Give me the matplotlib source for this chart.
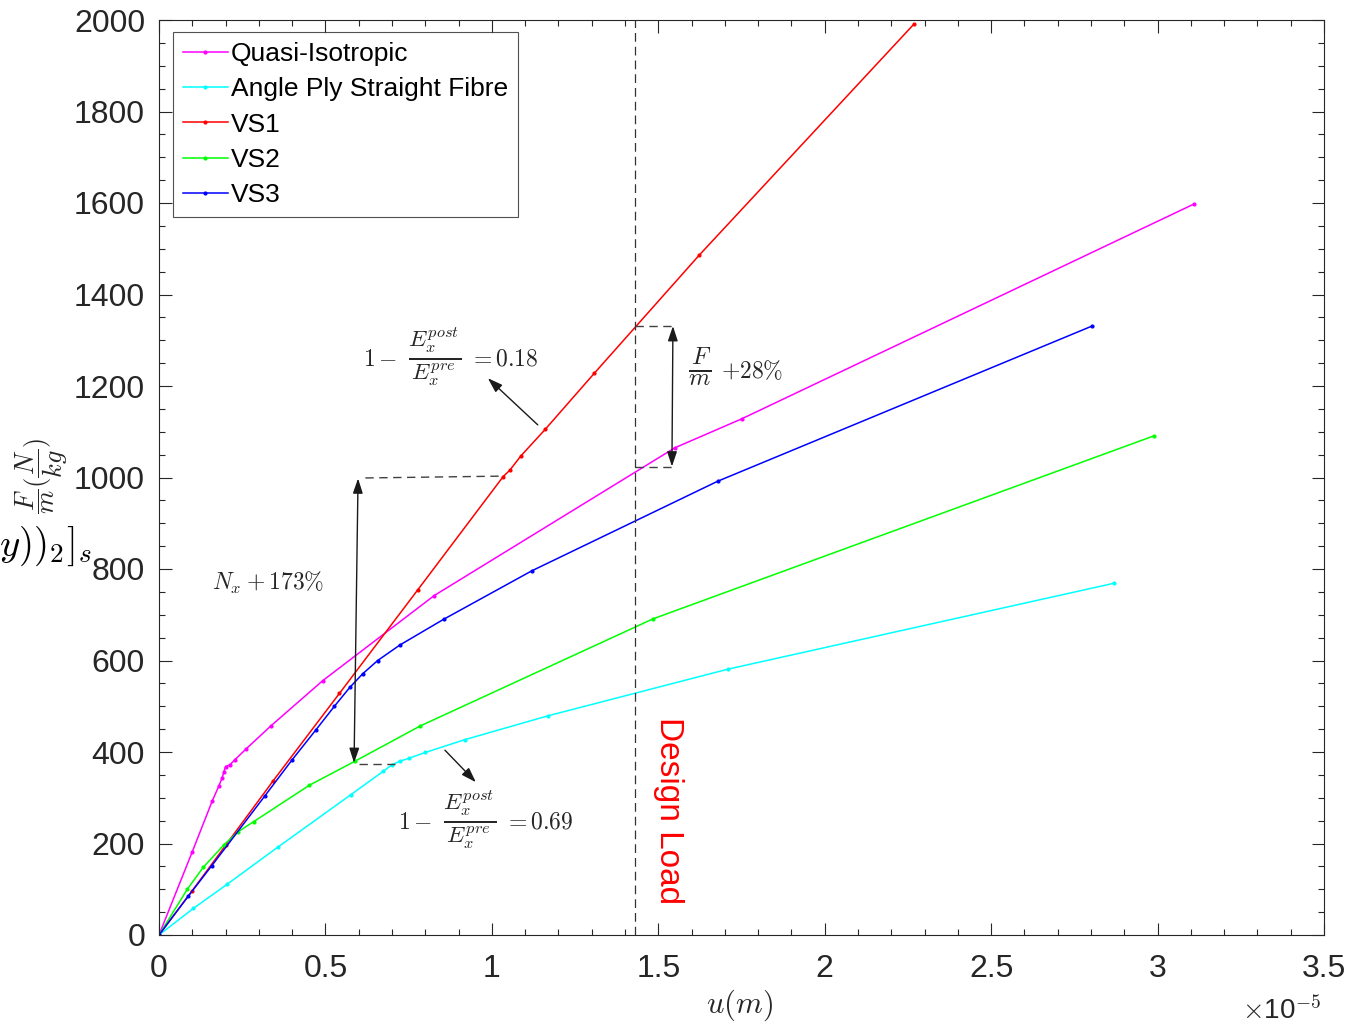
import numpy as np
import matplotlib
matplotlib.use("Agg")
import matplotlib.pyplot as plt
from matplotlib.ticker import MultipleLocator

plt.rcParams['font.family'] = ['Liberation Sans', 'DejaVu Sans']
plt.rcParams['mathtext.fontset'] = 'cm'

# ---- data (u in units of 1e-5 m, F/m in N/kg) ----
qi_u = [0, 0.10, 0.16, 0.18, 0.19, 0.195, 0.20, 0.213, 0.228, 0.262, 0.336, 0.492, 0.827, 1.55, 1.75, 3.11]
qi_f = [0, 182, 293, 326, 344, 357, 368, 372, 383, 407, 457, 556, 742, 1065, 1128, 1598]

ap_u = [0, 0.103, 0.205, 0.357, 0.577, 0.674, 0.70, 0.724, 0.75, 0.80, 0.919, 1.168, 1.709, 2.87]
ap_f = [0, 58, 111, 192, 307, 358, 372, 380, 386, 399, 427, 479, 581, 769]

vs1_u = [0, 0.10, 0.20, 0.343, 0.542, 0.777, 1.034, 1.054, 1.087, 1.16, 1.308, 1.623, 2.268]
vs1_f = [0, 97, 196, 337, 528, 754, 1002, 1016, 1047, 1105, 1228, 1486, 1991]

vs2_u = [0, 0.085, 0.133, 0.195, 0.238, 0.285, 0.451, 0.589, 0.785, 1.484, 2.989]
vs2_f = [0, 100, 148, 197, 226, 248, 327, 380, 457, 691, 1091]

vs3_u = [0, 0.088, 0.158, 0.318, 0.40, 0.471, 0.527, 0.573, 0.612, 0.657, 0.724, 0.855, 1.12, 1.679, 2.803]
vs3_f = [0, 85, 151, 304, 383, 448, 500, 541, 571, 600, 634, 690, 796, 992, 1331]

series_names = ['Quasi-Isotropic', 'Angle Ply Straight Fibre', 'VS1', 'VS2', 'VS3']
series_colors = ['#ff00ff', '#00ffff', '#ff0000', '#00ff00', '#0000ff']

design_u = 1.43
x_ticks = [0, 0.5, 1, 1.5, 2, 2.5, 3, 3.5]
x_ticklabels = ['0', '0.5', '1', '1.5', '2', '2.5', '3', '3.5']
y_ticks = [0, 200, 400, 600, 800, 1000, 1200, 1400, 1600, 1800, 2000]

W, H = 1346, 1027
fig = plt.figure(figsize=(W / 100, H / 100), dpi=100)
ax = fig.add_axes([159 / W, (H - 935) / H, (1324 - 159) / W, (935 - 20) / H])

for u, f, name, c in zip([qi_u, ap_u, vs1_u, vs2_u, vs3_u],
                         [qi_f, ap_f, vs1_f, vs2_f, vs3_f],
                         series_names, series_colors):
    ax.plot(u, f, '-', color=c, lw=1.1, marker='.', ms=4, label=name)

ax.set_xlim(0, 3.5)
ax.set_ylim(0, 2000)
ax.set_xticks(x_ticks)
ax.set_xticklabels(x_ticklabels)
ax.set_yticks(y_ticks)
ax.xaxis.set_minor_locator(MultipleLocator(0.1))
ax.yaxis.set_minor_locator(MultipleLocator(50))
ax.tick_params(which='both', direction='in', top=True, right=True, colors='#262626',
               labelsize=23, width=0.8)
ax.tick_params(axis='x', which='major', length=9, pad=14)
ax.tick_params(axis='y', which='major', length=9, pad=10)
ax.tick_params(which='minor', length=4.5)
for s in ax.spines.values():
    s.set_color('#262626')
    s.set_linewidth(0.8)

# design load line
ax.axvline(design_u, color='#333333', lw=0.9, dashes=(7, 4))
ax.text(1.53, 273, 'Design Load', color='red', rotation=270, fontsize=24,
        ha='center', va='center')

tc = '#262626'
dash_kw = dict(color='#404040', lw=1.0, dashes=(6, 4))
arrow2 = dict(arrowstyle='<|-|>,head_length=0.9,head_width=0.3',
              color='#1a1a1a', lw=1.0, shrinkA=0, shrinkB=0)
arrow1 = dict(arrowstyle='-|>,head_length=0.9,head_width=0.3',
              color='#1a1a1a', lw=1.0, shrinkA=0, shrinkB=0)

# Nx + 173%
ax.plot([0.62, 1.03], [999, 1003], **dash_kw)
ax.plot([0.60, 0.71], [374, 374], **dash_kw)
ax.annotate('', xy=(0.598, 998), xytext=(0.586, 376), arrowprops=arrow2)
ax.text(0.327, 769, r'$N_x+173\%$', fontsize=17, ha='center', va='center', color=tc)

# F/m + 28%
ax.plot([1.43, 1.544], [1331, 1331], **dash_kw)
ax.plot([1.43, 1.541], [1023, 1023], **dash_kw)
ax.annotate('', xy=(1.544, 1331), xytext=(1.541, 1024), arrowprops=arrow2)
ax.text(1.625, 1240, r'$\frac{F}{m}$', fontsize=25, ha='center', va='center', color=tc)
ax.text(1.781, 1233, r'$+28\%$', fontsize=17, ha='center', va='center', color=tc)

# stiffness loss annotations
frac_E = r'$\frac{E_x^{post}}{E_x^{pre}}$'
ax.annotate('', xy=(0.988, 1217), xytext=(1.138, 1115), arrowprops=arrow1)
ax.text(0.664, 1257, r'$1-$', fontsize=17, ha='center', va='center', color=tc)
ax.text(0.829, 1263, frac_E, fontsize=24, ha='center', va='center', color=tc)
ax.text(1.036, 1257, r'$=0.18$', fontsize=17, ha='center', va='center', color=tc)

ax.annotate('', xy=(0.952, 334), xytext=(0.859, 404), arrowprops=arrow1)
ax.text(0.769, 245, r'$1-$', fontsize=17, ha='center', va='center', color=tc)
ax.text(0.934, 251, frac_E, fontsize=24, ha='center', va='center', color=tc)
ax.text(1.141, 245, r'$=0.69$', fontsize=17, ha='center', va='center', color=tc)

leg = ax.legend(loc='upper left', bbox_to_anchor=((173 - 159) / (1324 - 159), 1 - (32 - 20) / (935 - 20)),
                fontsize=19, frameon=True, fancybox=False, handlelength=1.7, handletextpad=0.12,
                borderpad=0.38, labelspacing=0.43, borderaxespad=0, numpoints=1)
leg.get_frame().set_edgecolor('#262626')
leg.get_frame().set_linewidth(0.8)

# axis labels
fig.text(740 / W, 1 - 1005 / H, r'$u(m)$', fontsize=22, ha='center', va='center', color=tc)
fig.text(42 / W, 1 - 476 / H, r'$\dfrac{F}{m}(\dfrac{N}{kg})$', fontsize=19, rotation=90,
         ha='center', va='center', color=tc)
fig.text(92 / W, 1 - 546 / H, r'$y))_2]_s$', fontsize=28, ha='right', va='center', color='black')
fig.text(1242 / W, 2 / H, r'$\times$10$^{\mathsf{-5}}$', fontsize=20, ha='left', va='bottom',
         color=tc)

fig.savefig('out.png', dpi=100)
